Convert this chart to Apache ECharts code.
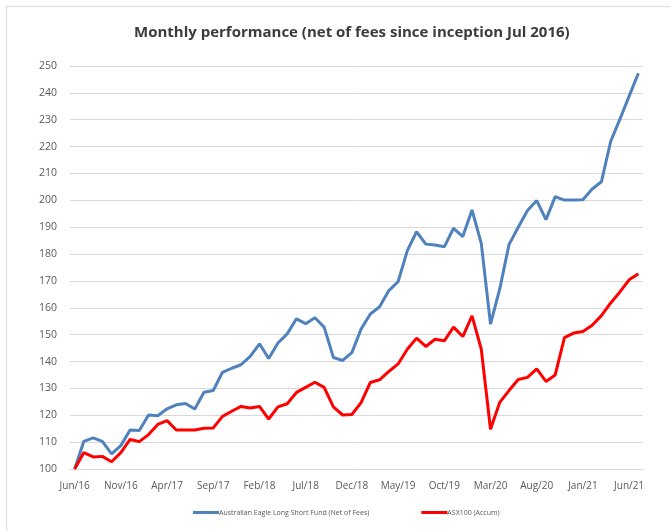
<!DOCTYPE html>
<html>
<head>
<meta charset="utf-8">
<script src="https://cdn.jsdelivr.net/npm/echarts@6/dist/echarts.min.js"></script>
<style>
  html, body { margin: 0; padding: 0; background: #fff; }
  #chart { width: 671px; height: 531px; }
</style>
</head>
<body>
<div id="chart"></div>
<script>
// month-end points, base 100 at Jun/16
const months = [
  'Jun/16', 'Jul/16', 'Aug/16', 'Sep/16', 'Oct/16', 'Nov/16', 'Dec/16',
  'Jan/17', 'Feb/17', 'Mar/17', 'Apr/17', 'May/17', 'Jun/17', 'Jul/17', 'Aug/17', 'Sep/17', 'Oct/17', 'Nov/17', 'Dec/17',
  'Jan/18', 'Feb/18', 'Mar/18', 'Apr/18', 'May/18', 'Jun/18', 'Jul/18', 'Aug/18', 'Sep/18', 'Oct/18', 'Nov/18', 'Dec/18',
  'Jan/19', 'Feb/19', 'Mar/19', 'Apr/19', 'May/19', 'Jun/19', 'Jul/19', 'Aug/19', 'Sep/19', 'Oct/19', 'Nov/19', 'Dec/19',
  'Jan/20', 'Feb/20', 'Mar/20', 'Apr/20', 'May/20', 'Jun/20', 'Jul/20', 'Aug/20', 'Sep/20', 'Oct/20', 'Nov/20', 'Dec/20',
  'Jan/21', 'Feb/21', 'Mar/21', 'Apr/21', 'May/21', 'Jun/21', 'Jul/21'
];

const fundValues = [
  100, 110.3, 111.6, 110.3, 105.6, 108.7, 114.5,
  114.3, 120.1, 119.8, 122.4, 123.9, 124.4, 122.3, 128.6, 129.2, 136.0, 137.5, 138.8,
  141.9, 146.6, 141.1, 146.9, 150.3, 155.9, 154.1, 156.3, 152.8, 141.5, 140.4, 143.3,
  152.1, 157.7, 160.4, 166.4, 169.7, 181.3, 188.3, 183.7, 183.4, 182.7, 189.6, 186.5,
  196.4, 184.0, 153.9, 167.0, 183.5, 190.0, 196.2, 199.9, 192.8, 201.4, 200.1, 200.1,
  200.2, 204.2, 206.9, 221.9, 230.2, 238.8, 247.3
];

const indexValues = [
  100, 106.1, 104.5, 104.7, 102.7, 106.1, 111.0,
  110.2, 112.8, 116.6, 118.0, 114.5, 114.5, 114.5, 115.2, 115.3, 119.6, 121.5, 123.3,
  122.7, 123.3, 118.6, 123.1, 124.3, 128.5, 130.4, 132.3, 130.4, 123.1, 120.1, 120.3,
  124.7, 132.2, 133.2, 136.3, 139.1, 144.6, 148.7, 145.6, 148.3, 147.7, 152.8, 149.3,
  157.0, 144.6, 114.8, 124.8, 129.2, 133.3, 134.1, 137.3, 132.6, 135.0, 148.9, 150.6,
  151.2, 153.5, 157.1, 161.8, 165.9, 170.4, 172.7
];

const seriesNames = ['Australian Eagle Long Short Fund (Net of Fees)', 'ASX100 (Accum)'];

const font = '"Open Sans", sans-serif';

const option = {
  animation: false,
  textStyle: { fontFamily: font },
  title: {
    text: 'Monthly performance (net of fees since inception Jul 2016)',
    left: 129,
    top: 20,
    textStyle: {
      fontFamily: font,
      fontSize: 15,
      fontWeight: 'bold',
      color: '#3b3b3b',
    },
  },
  graphic: [
    {
      type: 'rect',
      shape: { x: 6.5, y: 6.5, width: 700, height: 600 },
      style: { fill: 'none', stroke: '#e3e3e3', lineWidth: 1.5 },
      silent: true,
    },
  ],
  legend: {
    left: 188,
    top: 504,
    itemGap: 52,
    itemWidth: 26,
    itemHeight: 3,
    icon: 'rect',
    textStyle: { fontFamily: font, fontSize: 7, color: '#595959', padding: [0, 0, 0, -5] },
    data: seriesNames,
  },
  grid: {
    left: 70,
    right: 28,
    top: 66,
    bottom: 62,
  },
  xAxis: {
    type: 'category',
    data: months,
    boundaryGap: true,
    axisLine: { lineStyle: { color: '#d9d9d9', width: 1 } },
    axisTick: { show: false },
    axisLabel: {
      interval: 4,
      margin: 12,
      fontFamily: font,
      fontSize: 10,
      color: '#595959',
    },
  },
  yAxis: {
    type: 'value',
    min: 100,
    max: 250,
    interval: 10,
    axisLine: { show: false },
    axisTick: { show: false },
    splitLine: { lineStyle: { color: '#d9d9d9', width: 1 } },
    axisLabel: {
      margin: 13,
      fontFamily: font,
      fontSize: 10.5,
      color: '#595959',
    },
  },
  series: [
    {
      name: seriesNames[0],
      type: 'line',
      data: fundValues,
      showSymbol: false,
      color: '#4f81bd',
      lineStyle: { width: 3, color: '#4f81bd' },
    },
    {
      name: seriesNames[1],
      type: 'line',
      data: indexValues,
      showSymbol: false,
      color: '#ff0000',
      lineStyle: { width: 3, color: '#ff0000' },
    },
  ],
};

const myChart = echarts.init(document.getElementById('chart'), null, { renderer: 'canvas' });
myChart.setOption(option);
</script>
</body>
</html>
